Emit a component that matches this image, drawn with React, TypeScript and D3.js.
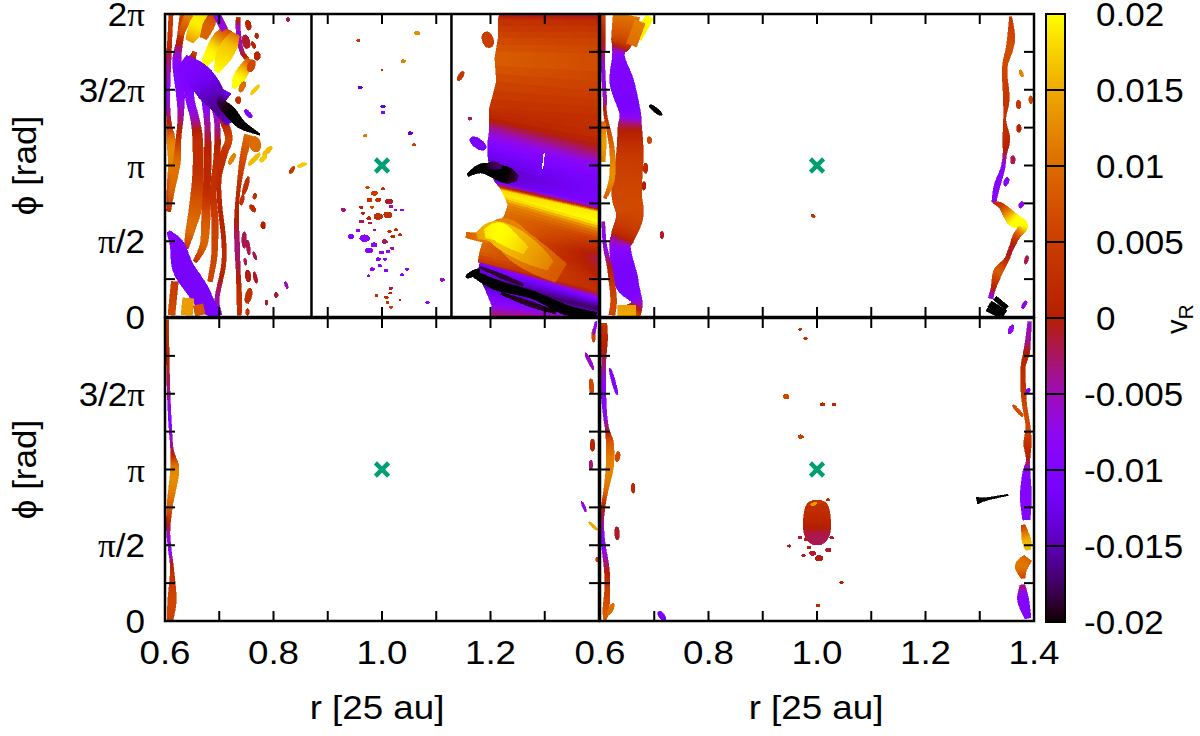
import React from "react";
import * as d3 from "d3";

type P = [number, number, number, number]; // r, phi/pi, vR, radial width
type Fleck = [number, number, number, number, number, number]; // r1, phi1, r2, phi2, vR, width

const xTickValues = d3.range(0.6, 1.401, 0.1);
const yTickValues = d3.range(0, 2.01, 0.25);
const xLabels = [0.6, 0.8, 1.0, 1.2];
const yLabels: [number, string][] = [[0, "0"], [0.5, "π/2"], [1, "π"], [1.5, "3/2π"], [2, "2π"]];
const barTicks = [-0.02, -0.015, -0.01, -0.005, 0, 0.005, 0.01, 0.015, 0.02];
const barLabels = ["-0.02", "-0.015", "-0.01", "-0.005", "0", "0.005", "0.01", "0.015", "0.02"];
const guideRadii = [0.87, 1.128];

const panelAStrands: P[][] = [
  [[.611,2.0,.004,.006],[.609,1.85,.003,.006],[.606,1.65,-.004,.007],[.605,1.45,-.007,.006],[.607,1.30,-.001,.006],[.611,1.17,.011,.012],[.614,1.02,.012,.012],[.608,.88,.008,.006],[.604,.7,.002,.002]],
  [[.635,1.99,.006,.012],[.628,1.84,.002,.009],[.622,1.685,-.008,.012],[.628,1.49,-.009,.012],[.629,1.33,-.004,.008],[.625,1.18,.003,.007],[.622,1.025,.010,.010],[.612,.83,.009,.008],[.608,.695,.002,.004]],
  [[.655,1.75,.006,.006],[.643,1.62,-.009,.015],[.646,1.44,-.009,.012],[.655,1.31,-.005,.012],[.66,1.18,.002,.014],[.661,.96,.003,.015],[.657,.74,.008,.018],[.646,.563,.010,.012],[.639,.453,.004,.006]],
  [[.665,1.64,-.009,.008],[.674,1.44,-.010,.010],[.678,1.27,-.004,.008],[.679,1.07,.001,.01],[.677,.85,.002,.01],[.675,.63,.008,.012],[.671,.475,.009,.01],[.655,.365,.003,.006]],
  [[.677,1.55,-.012,.008],[.695,1.31,-.006,.007],[.696,1.07,.002,.009],[.689,.827,.003,.009],[.692,.63,.005,.009],[.691,.41,.006,.008],[.683,.233,.006,.007]],
  [[.692,1.42,-.012,.012],[.717,1.20,.005,.01],[.708,1.07,.003,.01],[.70,.915,.002,.006],[.701,.74,.001,.006],[.708,.52,.001,.006],[.708,.343,.002,.006],[.696,.123,-.004,.006],[.701,.013,-.006,.006]],
  [[.735,1.98,.004,.006],[.735,1.895,-.006,.006],[.741,1.76,-.003,.006],[.752,1.7,.003,.006]],
  [[.754,1.20,.010,.012],[.744,1.05,.007,.009],[.735,.827,.002,.005],[.732,.65,0,.006],[.733,.475,-.003,.007],[.735,.30,-.001,.006],[.737,.123,.003,.007],[.737,.013,.002,.006]],
  [[.645,2.0,.013,.012],[.628,1.86,.006,.008]],
  [[.675,2.0,.018,.024],[.66,1.92,.019,.024],[.645,1.82,.014,.012]],
  [[.716,1.9,.006,.014],[.705,1.84,.012,.024],[.69,1.76,.019,.022],[.671,1.66,.02,.008]],
  [[.73,1.87,.010,.012],[.72,1.8,.016,.022],[.708,1.72,.018,.022],[.695,1.62,.02,.008]],
  [[.69,2.0,.006,.012],[.68,1.92,.009,.016],[.671,1.84,.009,.010]],
  [[.757,1.70,.007,.010],[.745,1.63,.016,.016],[.735,1.57,.02,.016],[.726,1.51,.02,.004]],
  [[.695,2.0,-.008,.01],[.71,1.895,-.006,.01]],
  [[.63,1.68,-.010,.025],[.66,1.6,-.011,.035],[.683,1.49,-.014,.036],[.70,1.38,-.016,.02],[.72,1.28,-.014,.012]],
  [[.714,1.49,-.012,.014],[.704,1.42,-.018,.012],[.72,1.355,-.02,.016],[.741,1.27,-.02,.012],[.775,1.205,-.02,.002]],
  [[.606,.563,-.009,.005],[.622,.475,-.010,.02],[.634,.32,-.011,.03],[.658,.19,-.011,.03],[.677,.08,-.011,.025],[.698,.01,-.011,.012]],
  [[.643,.123,.014,.016],[.64,.013,.014,.016]],
  [[.618,.233,.004,.01],[.612,.013,.007,.01]],
  [[.661,.08,.008,.014],[.665,.013,.008,.014]],
];

const panelAFlecks: Fleck[] = [
  [.752,1.96,.755,1.894,.001,.006],[.747,1.861,.752,1.773,-.001,.008],[.76,1.817,.766,1.773,.001,.004],[.769,1.872,.769,1.839,.001,.004],
  [.77,1.751,.77,1.696,.001,.007],[.763,1.696,.755,1.619,.006,.008],[.747,1.553,.738,1.487,.010,.006],[.774,1.531,.758,1.47,.017,.004],
  [.735,1.454,.735,1.41,.003,.006],[.747,1.366,.76,1.316,-.01,.005],[.797,1.124,.781,1.069,.016,.005],[.775,1.08,.754,1.003,.016,.005],
  [.787,1.069,.775,1.025,.017,.005],[.763,1.19,.769,1.091,.010,.012],[.729,1.08,.718,1.008,.012,.005],[.861,1.014,.844,.992,.017,.004],
  [.838,.992,.83,.948,.004,.004],[.754,.926,.744,.805,.003,.005],[.744,.805,.74,.739,.003,.004],[.767,.816,.764,.779,.003,.004],
  [.757,.739,.766,.695,.002,.005],[.781,.629,.781,.581,0,.005],[.746,.563,.746,.453,-.002,.005],[.752,.508,.755,.409,-.002,.004],
  [.763,.431,.768,.376,-.002,.003],[.747,.387,.749,.343,-.002,.003],[.752,.31,.754,.233,-.0005,.006],[.764,.299,.769,.222,-.001,.004],
  [.757,.189,.751,.09,.003,.007],[.752,.057,.752,.009,.003,.004],[.787,.112,.787,.079,-.001,.003],[.805,.163,.805,.128,-.001,.004],
  [.821,.233,.826,.189,-.005,.003],[.826,1.976,.827,1.949,-.002,.004],
  [1.19,1.88,1.2,1.78,.005,.012],[1.15,1.62,1.14,1.56,.004,.005],[1.162,1.32,1.162,1.3,-.002,.004],[1.155,.262,1.18,.312,-.02,.006],
  [1.172,1.12,1.182,1.17,-.011,.02],
];

// centre-gap specks: r, phi/pi, vR, radial half-width
const panelASpecks: P[] = [
  [1.065,1.873,.013,.008],[.956,1.825,.004,.005],[1.039,1.689,.012,.007],[1.0,1.63,.003,.004],[.96,1.515,-.014,.007],[1.002,1.39,-.014,.007],[1.002,1.35,-.01,.006],[.969,1.196,.011,.006],[1.052,1.213,-.014,.007],[1.059,1.136,.005,.006],
  [.973,.855,.006,.006],[.986,.817,.005,.009],[1.002,.846,.003,.006],[.977,.773,.003,.008],[.993,.773,.003,.008],[.982,.725,.006,.006],[1.013,.762,-.001,.010],[1.017,.73,-.004,.006],[.962,.725,0,.006],[.965,.685,0,.006],
  [.976,.652,.001,.007],[.993,.663,.003,.012],[1.011,.674,.003,.012],[.962,.63,-.002,.007],[.978,.62,-.002,.005],[.929,.707,-.003,.007],[1.025,.707,-.008,.005],[1.037,.707,-.008,.005],[.986,.575,-.004,.005],[1.014,.564,.003,.006],
  [1.026,.575,.003,.006],[1.033,.542,.003,.006],[1.02,.531,.002,.007],[1.005,.498,-.002,.008],[.968,.52,-.008,.014],[.956,.571,-.008,.006],[.943,.531,-.010,.009],[.985,.476,-.008,.009],[.976,.439,-.009,.010],[1.019,.454,-.004,.006],
  [1.011,.432,-.008,.006],[.999,.426,-.008,.007],[.993,.382,-.009,.007],[1.005,.382,-.009,.006],[.996,.338,-.009,.006],[.982,.316,-.009,.007],[1.007,.307,-.009,.006],[1.046,.316,-.009,.006],[1.037,.278,-.009,.006],[.975,.272,-.008,.005],
  [1.111,.245,-.006,.007],[1.016,.19,-.002,.006],[1.015,.157,.001,.005],[.99,.142,.003,.005],[1.008,.129,.002,.006],[1.033,.113,0,.004],[1.01,.096,.004,.005],[1.016,.065,.005,.006],[1.084,.096,-.009,.006],
];

// big disc region: rL, phiL, vL, phiR, vR
const panelAFieldRows: [number, number, number, number, number][] = [
  [1.216,1.993,-.002,1.993,-.003],[1.214,1.96,.003,1.96,.002],[1.214,1.84,.006,1.84,.005],[1.208,1.707,.009,1.685,.007],
  [1.211,1.553,.006,1.487,.005],[1.198,1.377,.003,1.333,.003],[1.198,1.311,.001,1.179,.002],[1.198,1.234,-.005,1.069,-.003],
  [1.195,1.157,-.009,.981,-.009],[1.195,1.069,-.012,.893,-.011],[1.198,.981,-.015,.805,-.011],[1.208,.893,-.013,.739,-.010],
  [1.217,.854,.005,.713,-.004],[1.22,.836,.018,.691,.019],[1.226,.794,.019,.618,.02],[1.232,.739,.012,.563,.011],
  [1.226,.673,.010,.508,.005],[1.214,.607,.011,.442,.001],[1.198,.563,.012,.398,-.002],[1.186,.497,.010,.321,-.001],
  [1.18,.431,.009,.233,.002],[1.177,.365,.004,.167,.003],[1.18,.354,-.01,.123,-.008],[1.177,.299,-.013,.079,-.015],
  [1.183,.233,-.017,.046,-.018],[1.192,.167,-.012,.013,-.012],[1.202,.079,-.008,0,-.009],[1.202,.002,-.002,0,-.005],
];

const panelAOverlays: P[][] = [
  [[1.155,.541,.009,.010],[1.186,.53,.011,.02],[1.223,.563,.012,.05],[1.254,.464,.012,.06],[1.29,.376,.010,.055],[1.33,.29,.008,.04]],
  [[1.175,.535,.014,.012],[1.205,.56,.016,.04],[1.24,.5,.016,.05],[1.28,.41,.014,.04],[1.31,.34,.012,.02]],
  [[1.19,.55,.019,.016],[1.215,.56,.02,.035],[1.24,.5,.019,.028],[1.265,.44,.017,.016]],
  [[1.158,.937,-.02,.006],[1.186,.981,-.02,.018],[1.229,.937,-.02,.03],[1.25,.915,-.018,.01]],
  [[1.19,.995,-.02,.006],[1.205,1.0,-.018,.014],[1.22,.99,-.017,.006]],
  [[1.168,.288,-.02,.012],[1.211,.211,-.02,.018],[1.278,.145,-.02,.014],[1.34,.046,-.02,.018],[1.395,.013,-.02,.01]],
  [[1.18,.33,-.018,.004],[1.22,.27,-.019,.008],[1.26,.21,-.018,.006]],
  [[1.22,.155,-.02,.004],[1.27,.09,-.019,.010],[1.32,.03,-.02,.006]],
];

const panelAGaps: Fleck[] = [[1.299,1.08,1.296,.98,0,.0025]];

const panelBStrands: P[][] = [
  [[.649,1.993,.011,.045],[.64,1.817,.005,.035],[.634,1.729,-.008,.02],[.64,1.553,-.010,.04],[.655,1.355,-.010,.035],[.655,1.245,-.001,.04],[.655,1.069,.004,.045],[.649,.827,.006,.05],[.655,.673,.006,.045],[.643,.541,.002,.04],[.637,.453,-.008,.035],[.649,.233,-.011,.04],[.668,.101,-.007,.018],[.655,.013,.013,.04]],
  [[.606,1.993,.006,.006],[.606,1.795,-.001,.006],[.606,1.619,-.007,.006],[.609,1.443,-.005,.006],[.61,1.333,.002,.005],[.622,1.113,.010,.008],[.622,.915,.013,.009],[.609,.783,.008,.005]],
  [[.606,1.289,.010,.006],[.606,1.157,.014,.010],[.606,1.025,.012,.006]],
  [[.606,.629,-.005,.005],[.609,.475,-.008,.006],[.618,.321,0,.008],[.625,.123,.006,.01],[.622,.013,.006,.01]],
  [[.692,1.982,.02,.014],[.668,1.84,.019,.016]],
  [[.674,1.949,.012,.018],[.658,1.795,.010,.018]],
  [[.649,.079,.014,.03],[.649,0,.015,.03]],
  [[1.357,1.982,.004,.004],[1.358,1.855,.006,.012],[1.355,1.773,.007,.012],[1.346,1.641,.006,.008],[1.349,1.443,.004,.010],[1.346,1.305,.003,.004],[1.349,1.179,.002,.012],[1.346,1.069,-.002,.006],[1.342,.975,-.009,.007],[1.332,.867,-.009,.01],[1.326,.755,-.009,.007]],
  [[1.326,.755,.003,.004],[1.34,.733,.005,.01],[1.361,.645,.019,.022],[1.38,.601,.02,.016],[1.368,.535,.007,.012],[1.358,.453,-.001,.008],[1.349,.376,.002,.008],[1.334,.299,.008,.015],[1.325,.189,0,.008],[1.32,.123,-.008,.008]],
  [[1.318,.085,-.02,.012],[1.346,.02,-.02,.014]],
  [[1.328,.125,-.02,.008],[1.35,.06,-.02,.008]],
  [[1.313,.05,-.02,.006],[1.34,.005,-.02,.008]],
];

const panelBFlecks: Fleck[] = [
  [.691,1.19,.691,1.146,.006,.005],[.684,1.014,.684,.948,.002,.005],[.681,.893,.681,.838,0,.004],[.714,.563,.714,.519,-.001,.004],[.691,1.399,.714,1.333,-.02,.005],[.99,.675,.996,.66,.003,.003],
  [1.374,1.63,1.379,1.585,.012,.004],[1.371,1.43,1.372,1.375,.004,.005],[1.372,1.27,1.372,1.22,.001,.005],[1.361,1.065,1.361,1.01,-.002,.005],[1.352,.92,1.346,.865,-.009,.005],[1.379,.76,1.374,.72,-.007,.005],
  [1.388,.405,1.384,.35,-.002,.004],[1.386,.105,1.378,.055,-.008,.004],[1.394,1.46,1.394,1.41,.006,.004],
];

const panelCStrands: P[][] = [
  [[.604,1.987,.004,.004],[.606,1.59,-.002,.004],[.609,1.327,-.009,.004],[.613,1.129,-.002,.004],[.618,.997,.012,.012],[.609,.766,.009,.008],[.606,.6,-.003,.005],[.609,.469,-.008,.004],[.613,.337,.002,.005],[.613,.139,.006,.012],[.609,0,.005,.008]],
];

const panelCFlecks: Fleck[] = [
  [1.39,1.93,1.39,1.84,.006,.004],[1.385,1.6,1.387,1.5,.006,.005],[1.388,1.2,1.388,1.12,.001,.005],[1.385,1.06,1.385,1.0,-.003,.004],
  [1.381,.655,1.397,.6,.015,.003],[1.396,.42,1.397,.39,.005,.003],[1.395,1.98,1.39,1.89,-.008,.003],[1.368,.79,1.376,.72,-.007,.003],[1.375,1.77,1.39,1.66,-.006,.004],
];

const panelDStrands: P[][] = [
  [[.607,1.965,.004,.01],[.607,1.855,.001,.012],[.607,1.723,-.002,.007],[.606,1.547,-.008,.008],[.609,1.371,-.008,.006],[.6135,1.261,-.001,.006],[.618,1.173,.008,.012],[.618,1.019,.012,.012],[.611,.865,.010,.007],[.606,.755,.001,.006],[.604,.645,-.004,.005],[.606,.513,-.009,.006],[.612,.359,-.002,.008],[.6135,.227,.004,.008],[.611,.073,.008,.010],[.609,.007,.008,.004]],
  [[1.392,1.976,-.006,.006],[1.389,1.855,-.004,.008],[1.386,1.767,0,.010],[1.38,1.679,.002,.007],[1.38,1.547,.003,.008],[1.383,1.415,.006,.007],[1.389,1.283,.006,.007],[1.388,1.173,.003,.012],[1.389,1.063,-.001,.006],[1.386,.975,-.009,.012],[1.385,.821,-.009,.018],[1.386,.667,-.009,.012]],
  [[1.38,.634,.005,.006],[1.386,.535,.015,.014],[1.389,.469,.016,.008]],
  [[1.389,.414,.009,.015],[1.377,.359,.011,.02],[1.38,.282,.006,.006]],
  [[1.379,.238,-.003,.008],[1.38,.139,-.009,.018],[1.389,.018,-.009,.01]],
  [[1.295,.794,-.02,.012],[1.309,.803,-.02,.005],[1.352,.832,-.02,.002]],
];

// the clump below the planet: phi/pi, vR, width at r = 1
const clumpRows: [number, number, number][] = [[.797,.004,.01],[.785,.004,.026],[.76,.003,.037],[.7,.002,.044],[.62,0,.046],[.56,-.002,.04],[.52,-.002,.026],[.505,-.002,.012]];

const panelDFlecks: Fleck[] = [
  [.618,1.668,.632,1.492,-.01,.004],[.634,1.118,.631,1.052,.006,.005],[.661,.909,.661,.843,.002,.004],[.631,.623,.632,.535,-.001,.005],[.708,.062,.72,.002,-.011,.006],[.625,.117,.615,.04,.01,.005],
  [1.361,1.426,1.38,1.349,.007,.004],[1.392,1.536,1.386,1.503,-.009,.004],[1.361,1.954,1.354,1.894,-.008,.005],[.989,.765,.999,.78,.014,.003],
];

const panelDSpecks: P[] = [
  [.969,1.925,.003,.005],[.979,1.866,.003,.006],[.943,1.481,.006,.009],[1.01,1.43,.002,.007],[1.031,1.43,.001,.006],[.97,1.217,.005,.008],[1.02,.799,.003,.006],[1.045,.253,.001,.006],[1.002,.103,.002,.006],
  [.969,.55,-.001,.006],[.981,.539,-.001,.008],[1.027,.55,-.001,.006],[.949,.495,-.001,.006],[.985,.486,0,.006],[.975,.431,-.001,.006],[.992,.447,-.001,.009],[1.004,.414,-.0005,.011],[1.021,.469,-.001,.008],
];

const W = 1200, H = 736;
const xA = d3.scaleLinear().domain([0.6, 1.4]).range([165, 599]);
const xB = d3.scaleLinear().domain([0.6, 1.4]).range([600, 1034]);
const yTop = d3.scaleLinear().domain([0, 2]).range([317, 14]);
const yBot = d3.scaleLinear().domain([0, 2]).range([621, 318]);
const vNorm = d3.scaleLinear().domain([-0.02, 0.02]).range([0, 1]).clamp(true);
const barY = d3.scaleLinear().domain([-0.02, 0.02]).range([622, 14]);
const FONT = "'Liberation Sans', Arial, sans-serif";
const SERIF = "'Liberation Serif', 'Times New Roman', serif";
const GAIN = 1.3;

// gnuplot "rgbformulae 7,5,15"
const palette = (t: number) => {
  const r = Math.sqrt(t), g = t * t * t, b = Math.max(0, Math.sin(2 * Math.PI * t));
  return d3.rgb(r * 255, g * 255, b * 255).formatHex();
};
const colour = (v: number) => palette(vNorm(v));

type Sx = d3.ScaleLinear<number, number>;
type Quad = { d: string; fill: string };

// Catmull-Rom through the listed values, so peaks keep their height
function through(vals: number[]) {
  const n = vals.length - 1;
  return (t: number) => {
    const u = Math.min(n - 1e-6, Math.max(0, t * n));
    const i = Math.floor(u), f = u - i;
    const p0 = vals[Math.max(0, i - 1)], p1 = vals[i], p2 = vals[i + 1], p3 = vals[Math.min(n, i + 2)];
    return 0.5 * (2 * p1 + (p2 - p0) * f + (2 * p0 - 5 * p1 + 4 * p2 - p3) * f * f + (3 * p1 - p0 - 3 * p2 + p3) * f * f * f);
  };
}

function ribbon(points: P[], sx: Sx, sy: Sx, taper: boolean, gain = GAIN): Quad[] {
  const ix = through(points.map((p) => sx(p[0])));
  const iy = through(points.map((p) => sy(p[1])));
  const iv = through(points.map((p) => p[2]));
  const iw = through(points.map((p) => p[3]));
  const n = Math.max(6, (points.length - 1) * 14);
  const unit = sx(1) - sx(0);
  const quads: Quad[] = [];
  const edge = (t: number) => {
    const e = 0.002;
    const dx = ix(Math.min(1, t + e)) - ix(Math.max(0, t - e));
    const dy = iy(Math.min(1, t + e)) - iy(Math.max(0, t - e));
    const len = Math.hypot(dx, dy) || 1;
    const scale = taper ? Math.sqrt(Math.sin(Math.PI * Math.min(0.98, Math.max(0.02, t)))) : 1;
    const h = (Math.max(0, iw(t)) * unit * scale * gain) / 2;
    const nx = -dy / len, ny = dx / len;
    return [ix(t) + nx * h, iy(t) + ny * h, ix(t) - nx * h, iy(t) - ny * h];
  };
  for (let i = 0; i < n; i++) {
    const a = edge(i / n), b = edge((i + 1) / n);
    quads.push({
      d: `M${a[0]},${a[1]}L${b[0]},${b[1]}L${b[2]},${b[3]}L${a[2]},${a[3]}Z`,
      fill: colour(iv((i + 0.5) / n)),
    });
  }
  return quads;
}

function fleckQuads(f: Fleck, sx: Sx, sy: Sx): Quad[] {
  return ribbon([[f[0], f[1], f[4], f[5]], [f[2], f[3], f[4], f[5]]], sx, sy, true, 1.7);
}

function fieldQuads(rows: typeof panelAFieldRows, sx: Sx, sy: Sx): Quad[] {
  const quads: Quad[] = [];
  const sub = 3, cols = 26;
  const at = (row: number, s: number, c: number) => {
    const a = rows[row], b = rows[Math.min(row + 1, rows.length - 1)];
    const lerp = (p: number, q: number) => p + (q - p) * s;
    const rL = lerp(a[0], b[0]), pL = lerp(a[1], b[1]), vL = lerp(a[2], b[2]), pR = lerp(a[3], b[3]), vR = lerp(a[4], b[4]);
    return { x: sx(rL + (1.4 - rL) * c), y: sy(pL + (pR - pL) * c), v: vL + (vR - vL) * c };
  };
  for (let r = 0; r < rows.length - 1; r++) {
    for (let s = 0; s < sub; s++) {
      for (let c = 0; c < cols; c++) {
        const p00 = at(r, s / sub, c / cols), p10 = at(r, s / sub, (c + 1) / cols);
        const p01 = at(r, (s + 1) / sub, c / cols), p11 = at(r, (s + 1) / sub, (c + 1) / cols);
        quads.push({
          d: `M${p00.x},${p00.y}L${p10.x},${p10.y}L${p11.x},${p11.y}L${p01.x},${p01.y}Z`,
          fill: colour((p00.v + p11.v) / 2),
        });
      }
    }
  }
  return quads;
}

function speckEls(specks: P[], sx: Sx, sy: Sx, key: string) {
  const unit = sx(1) - sx(0);
  return specks.map((s, i) => (
    <ellipse key={key + i} cx={sx(s[0])} cy={sy(s[1])} rx={s[3] * unit * 0.7} ry={s[3] * unit * 0.5} fill={colour(s[2])} />
  ));
}

function Quads({ quads }: { quads: Quad[] }) {
  return <>{quads.map((q, i) => <path key={i} d={q.d} fill={q.fill} stroke={q.fill} strokeWidth={0.6} />)}</>;
}

function Label({ x, y, anchor = "start", rotate = 0, stretch = 1.03, children }: { x: number; y: number; anchor?: string; rotate?: number; stretch?: number; children: React.ReactNode }) {
  return (
    <text transform={`translate(${x},${y}) rotate(${rotate}) scale(${stretch},1)`} fontFamily={FONT} fontSize={34} fill="#000" textAnchor={anchor}>
      {children}
    </text>
  );
}

function withPi(l: string) {
  return l.split("π").map((part, i) => (
    <React.Fragment key={i}>
      {i > 0 && <tspan fontFamily={SERIF}>π</tspan>}
      {part}
    </React.Fragment>
  ));
}

function Panel({ id, sx, sy, children, guides }: { id: string; sx: Sx; sy: Sx; children: React.ReactNode; guides?: number[] }) {
  const [x0, x1] = sx.range();
  const [y1, y0] = sy.range();
  const marker = d3.symbol().type(d3.symbolTimes).size(115)() as string;
  return (
    <g>
      <clipPath id={id}><rect x={x0} y={y0} width={x1 - x0} height={y1 - y0} /></clipPath>
      <g clipPath={`url(#${id})`} shapeRendering="crispEdges">{children}</g>
      <path d={marker} transform={`translate(${sx(1)},${sy(1)})`} fill="none" stroke="#009e73" strokeWidth={4.4} />
      {xTickValues.map((t) => (
        <g key={t} stroke="#000" strokeWidth={2}>
          <line x1={sx(t)} x2={sx(t)} y1={y0} y2={y0 + 10} />
          <line x1={sx(t)} x2={sx(t)} y1={y1} y2={y1 - 10} />
        </g>
      ))}
      {yTickValues.map((t) => (
        <g key={t} stroke="#000" strokeWidth={2}>
          <line x1={x0} x2={x0 + 10} y1={sy(t)} y2={sy(t)} />
          <line x1={x1} x2={x1 - 10} y1={sy(t)} y2={sy(t)} />
        </g>
      ))}
      {(guides || []).map((g) => (
        <line key={g} x1={sx(g)} x2={sx(g)} y1={y0} y2={y1} stroke="#000" strokeWidth={2.5} />
      ))}
      <rect x={x0} y={y0} width={x1 - x0} height={y1 - y0} fill="none" stroke="#000" strokeWidth={2.5} />
    </g>
  );
}

export default function App() {
  const barRows = d3.range(14, 622);
  const clump: P[] = clumpRows.map(([p, v, w]) => [1.0, p, v, w]);
  return (
    <svg width={W} height={H} viewBox={`0 0 ${W} ${H}`} style={{ position: "absolute", left: 0, top: 0, background: "#fff" }}>
      <Panel id="pa" sx={xA} sy={yTop} guides={guideRadii}>
        <Quads quads={fieldQuads(panelAFieldRows, xA, yTop)} />
        {panelAOverlays.map((s, i) => <Quads key={i} quads={ribbon(s, xA, yTop, false, 1)} />)}
        {panelAStrands.map((s, i) => <Quads key={i} quads={ribbon(s, xA, yTop, false)} />)}
        {panelAFlecks.map((f, i) => <Quads key={i} quads={fleckQuads(f, xA, yTop)} />)}
        {speckEls(panelASpecks, xA, yTop, "a")}
        {panelAGaps.map((g, i) => <line key={i} x1={xA(g[0])} y1={yTop(g[1])} x2={xA(g[2])} y2={yTop(g[3])} stroke="#fff" strokeWidth={g[5] * 542.5} />)}
      </Panel>
      <Panel id="pb" sx={xB} sy={yTop}>
        {panelBStrands.map((s, i) => <Quads key={i} quads={ribbon(s, xB, yTop, false, 1.1)} />)}
        {panelBFlecks.map((f, i) => <Quads key={i} quads={fleckQuads(f, xB, yTop)} />)}
      </Panel>
      <Panel id="pc" sx={xA} sy={yBot}>
        {panelCStrands.map((s, i) => <Quads key={i} quads={ribbon(s, xA, yBot, false)} />)}
        {panelCFlecks.map((f, i) => <Quads key={i} quads={fleckQuads(f, xA, yBot)} />)}
      </Panel>
      <Panel id="pd" sx={xB} sy={yBot}>
        {panelDStrands.map((s, i) => <Quads key={i} quads={ribbon(s, xB, yBot, false, 1.15)} />)}
        <Quads quads={ribbon(clump, xB, yBot, false, 1.1)} />
        {panelDFlecks.map((f, i) => <Quads key={i} quads={fleckQuads(f, xB, yBot)} />)}
        {speckEls(panelDSpecks, xB, yBot, "d")}
      </Panel>

      {/* colour bar */}
      <g shapeRendering="crispEdges">
        {barRows.map((y) => <rect key={y} x={1046} y={y} width={19} height={1} fill={colour(barY.invert(y + 0.5))} />)}
      </g>
      {barTicks.map((t, i) => (
        <g key={t}>
          <line x1={1046} x2={1065} y1={barY(t)} y2={barY(t)} stroke="#000" strokeWidth={2} />
          <Label x={t < 0 ? 1084 : 1096} y={barY(t) + 12}>{barLabels[i]}</Label>
        </g>
      ))}
      <rect x={1046} y={14} width={19} height={608} fill="none" stroke="#000" strokeWidth={2} />
      <text transform="translate(1187,334) rotate(-90)" fontFamily={FONT} fontSize={29} fill="#000">v<tspan fontSize={21} dy={6}>R</tspan></text>

      {/* axis labels */}
      {[xA, xB].map((sx, k) => (
        <g key={k}>
          {xLabels.map((v) => (
            <Label key={v} x={sx(v)} y={664} anchor="middle" stretch={1.08}>{v.toFixed(1)}</Label>
          ))}
          <Label x={k === 0 ? 377 : 816} y={719} anchor="middle" stretch={1.08}>r [25 au]</Label>
        </g>
      ))}
      <Label x={xB(1.4)} y={664} anchor="middle" stretch={1.08}>1.4</Label>
      {[yTop, yBot].map((sy, k) => (
        <g key={k}>
          {yLabels.filter(([v]) => k === 0 || v < 2).map(([v, l]) => (
            <Label key={l} x={145} y={sy(v) + 12} anchor="end">{withPi(l)}</Label>
          ))}
          <Label x={36} y={sy(1)} rotate={-90} anchor="middle">ϕ [rad]</Label>
        </g>
      ))}
    </svg>
  );
}
